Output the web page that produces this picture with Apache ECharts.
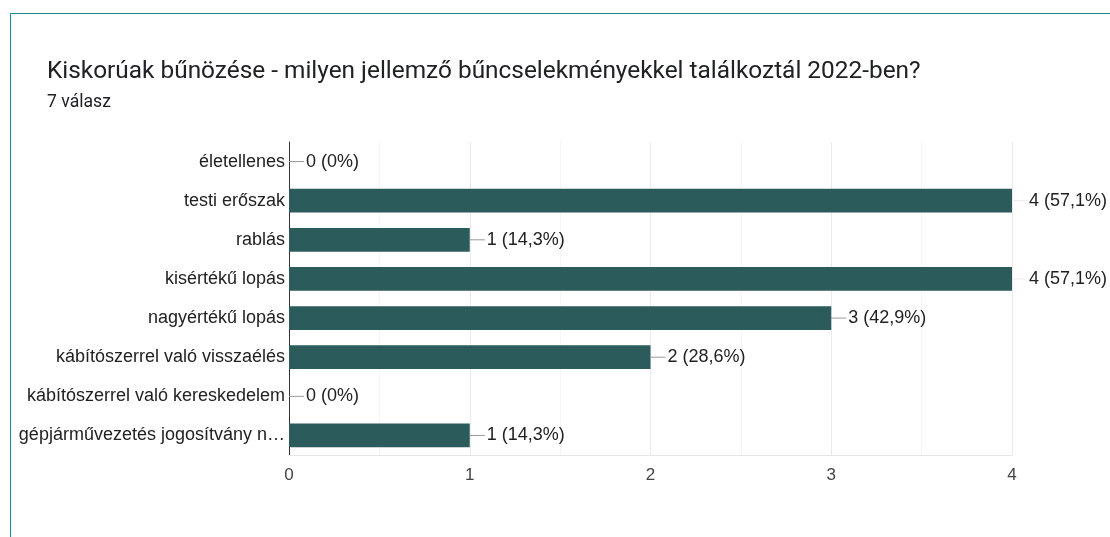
<!DOCTYPE html>
<html>
<head>
<meta charset="utf-8">
<script src="https://cdn.jsdelivr.net/npm/echarts@6/dist/echarts.min.js"></script>
<style>
  html, body { margin: 0; padding: 0; background: #fff; }
  .card { position: absolute; left: 10px; top: 13px; width: 1200px; height: 700px;
          border: 1.5px solid #1b8e8c; box-sizing: border-box; }
  .chart { position: absolute; left: 0; top: 0; width: 1110px; height: 537px; }
</style>
</head>
<body>
<div class="card"></div>
<div class="chart"></div>
<script>
// last label is shown cut off in the source form
var categories = [
    'életellenes',
    'testi erőszak',
    'rablás',
    'kisértékű lopás',
    'nagyértékű lopás',
    'kábítószerrel való visszaélés',
    'kábítószerrel való kereskedelem',
    'gépjárművezetés jogosítvány n…'
];
var counts = [0, 4, 1, 4, 3, 2, 0, 1];
var responses = 7;
var xTicks = [0, 1, 2, 3, 4];

var maxCount = Math.max.apply(null, counts);
var chartFont = 'Liberation Sans';

function pct(v) {
    var p = Math.round(v / responses * 1000) / 10;
    return String(p).replace('.', ',') + '%';
}

var barData = counts.map(function (v) {
    return {
        value: v,
        label: {
            rich: {
                l: { width: 15, height: 1, backgroundColor: v === maxCount ? '#ececec' : '#999' }
            }
        }
    };
});

option = {
    title: {
        text: 'Kiskorúak bűnözése - milyen jellemző bűncselekményekkel találkoztál 2022-ben?',
        subtext: responses + ' válasz',
        left: 42,
        top: 55,
        itemGap: 10,
        textStyle: {
            color: '#202124',
            fontFamily: 'Roboto',
            fontWeight: 'normal',
            fontSize: 24.4
        },
        subtextStyle: {
            color: '#202124',
            fontFamily: 'Roboto',
            fontSize: 17.6
        }
    },
    grid: {
        left: 289,
        right: 98,
        top: 142,
        bottom: 82,
        containLabel: false
    },
    xAxis: {
        type: 'value',
        min: xTicks[0],
        max: xTicks[xTicks.length - 1],
        interval: 1,
        axisLine: { show: true, lineStyle: { color: '#e6e6e6' } },
        axisTick: { show: false },
        axisLabel: { color: '#444', fontFamily: chartFont, fontSize: 17, margin: 12 },
        splitLine: { show: true, lineStyle: { color: '#ebebeb' } },
        minorTick: { show: false, splitNumber: 2 },
        minorSplitLine: { show: true, lineStyle: { color: '#f5f5f5' } }
    },
    yAxis: {
        type: 'category',
        data: categories,
        inverse: true,
        axisLine: { show: true, lineStyle: { color: '#333', width: 1 } },
        axisTick: { show: false },
        axisLabel: {
            color: '#222',
            fontFamily: chartFont,
            fontSize: 18,
            margin: 4
        }
    },
    series: [{
        type: 'bar',
        data: barData,
        barWidth: '61%',
        itemStyle: { color: '#2b5b5a' },
        label: {
            show: true,
            position: 'right',
            distance: 0,
            formatter: function (p) {
                return '{l|}{t|' + p.value + ' (' + pct(p.value) + ')}';
            },
            rich: {
                t: { color: '#222', fontFamily: chartFont, fontSize: 18, padding: [0, 0, 0, 2] }
            }
        },
        animation: false
    }]
};
var myecharts = echarts.init(document.querySelector('.chart'))
myecharts.setOption(option)
</script>
</body>
</html>
